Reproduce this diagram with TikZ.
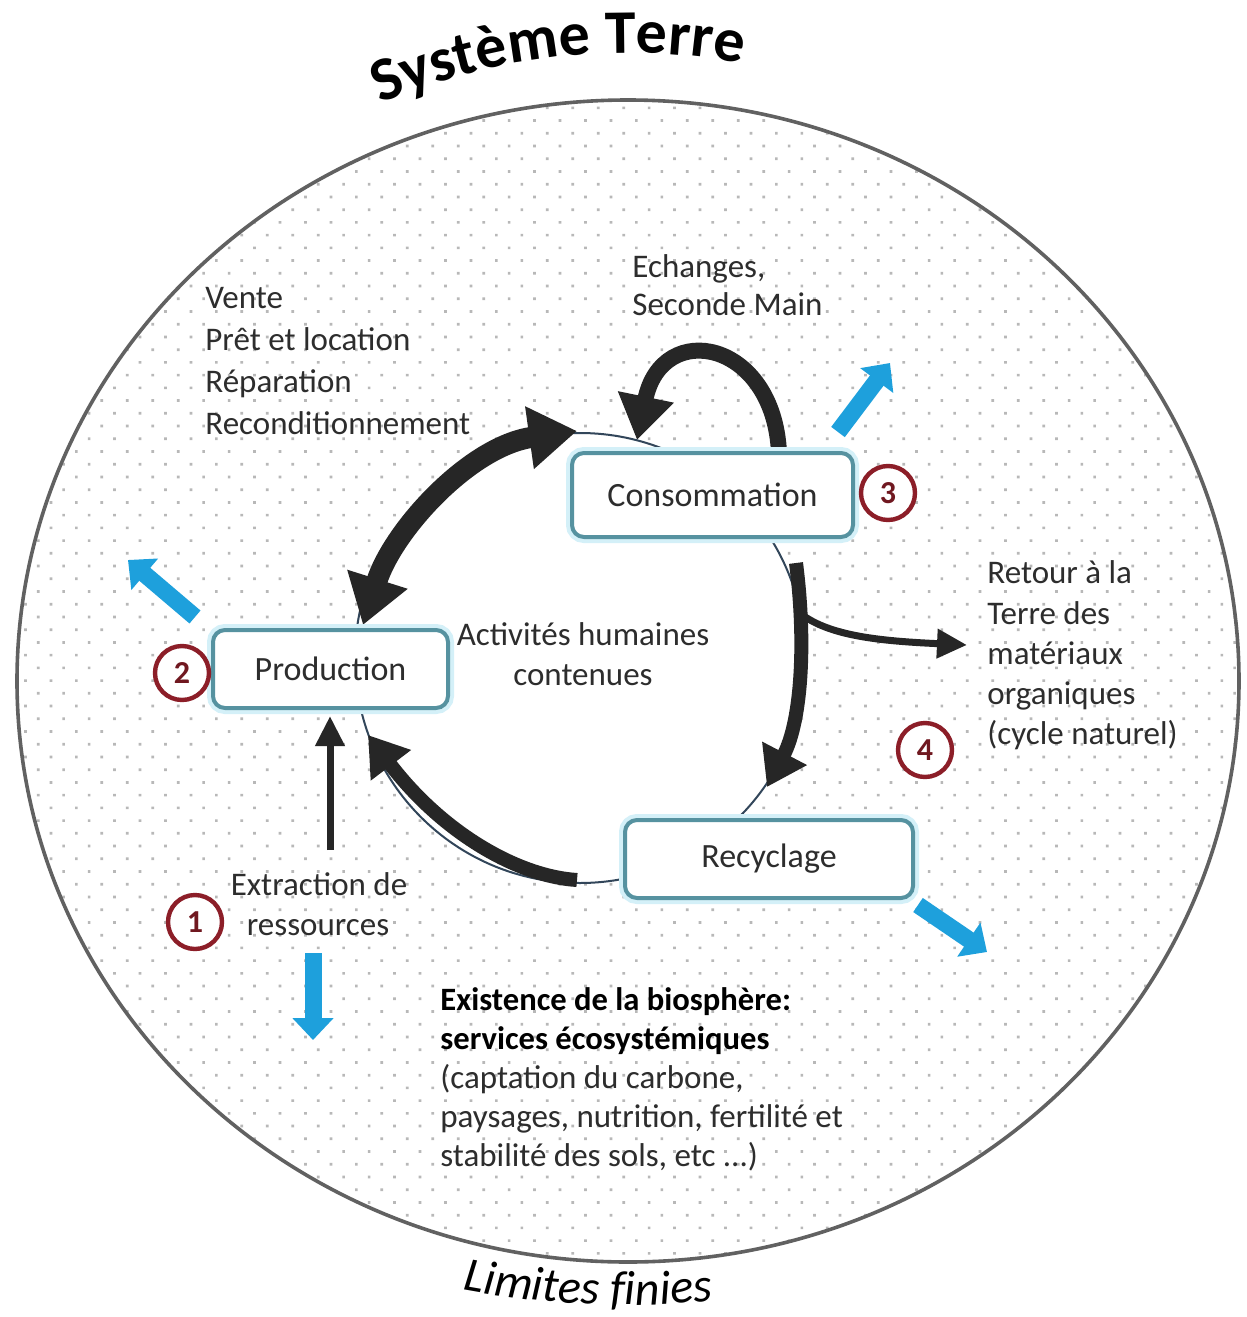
\documentclass[tikz,border=0pt]{standalone}
\usepackage{fontspec}
\setmainfont{Carlito}
\usetikzlibrary{arrows.meta,decorations.text,patterns.meta}
\definecolor{boxteal}{RGB}{86,146,160}
\definecolor{boxglow}{RGB}{212,240,248}
\definecolor{bluearr}{RGB}{30,160,220}
\definecolor{numred}{RGB}{140,30,40}
\definecolor{arrblack}{RGB}{38,38,38}
\definecolor{cycleblue}{RGB}{50,70,90}
\definecolor{txtgray}{RGB}{45,45,45}
\begin{document}
\begin{tikzpicture}[x=0.5pt,y=-0.5pt,
  txt/.style={font=\fontsize{16.5}{20}\selectfont, text=txtgray, inner sep=0pt, anchor=base west},
  txtb/.style={txt, font=\fontsize{16.3}{20}\selectfont\bfseries, text=black},
  txtc/.style={txt, anchor=base},
  box/.style={draw=boxteal, line width=2pt, rounded corners=6pt, fill=white,
    preaction={draw=boxglow, line width=6pt},
    font=\fontsize{17}{20}\selectfont, text=txtgray},
  num/.style={circle, draw=numred, line width=2.2pt, fill=white, minimum size=27pt, inner sep=0pt,
    font=\fontsize{16}{16}\selectfont\bfseries, text=numred!80!black},
  bluear/.style={draw=bluearr, line width=8.5pt, -{Triangle[width=20pt,length=11pt]}},
  bigarr/.style={draw=arrblack, line width=10.5pt, {Triangle[width=30pt,length=24pt]}-{Triangle[width=30pt,length=24pt]}},
  loopar/.style={draw=arrblack, line width=8pt, -{Triangle[width=27pt,length=22pt]}},
  midarr/.style={draw=arrblack, line width=7pt, -{Triangle[width=24pt,length=19pt]}},
  thinar/.style={draw=arrblack, line width=3.5pt, -{Triangle[width=14pt,length=15pt]}}
]
\useasboundingbox (0,0) rectangle (1247,1317);
\fill[white] (0,0) rectangle (1247,1317);

% Earth system
\path[pattern={Dots[distance=9pt,radius=0.95pt,angle=45]}, pattern color=black!28]
  (628,681) ellipse [x radius=611, y radius=581];
\draw[black!62, line width=1.8pt] (628,681) ellipse [x radius=611, y radius=581];

% curved titles
\path[decorate, decoration={text along path, text align=center,
  text={|\fontsize{31}{31}\selectfont\bfseries|Système Terre}}]
  (628,681) ++(-113.8:628) arc[start angle=-113.8, end angle=-79, radius=628];
\path[decorate, decoration={text along path, text align=center,
  text={|\fontsize{24}{24}\selectfont\itshape|Limites finies}}]
  (628,405) ++(101.1:900) arc[start angle=101.1, end angle=84.1, radius=900];

% cycle of human activities
\draw[cycleblue, line width=1pt, fill=white] (580,658) circle [radius=225];

% arrow end points
\coordinate (dA) at (363,625); \coordinate (dB) at (577,431);
\coordinate (sA) at (779,453); \coordinate (sB) at (637,440);
\coordinate (rA) at (796,563); \coordinate (rB) at (767,787);
\coordinate (bA) at (801,614); \coordinate (bB) at (967,645);
\coordinate (cA) at (577,880); \coordinate (cB) at (368,735);
\coordinate (eA) at (330,850); \coordinate (eB) at (330,716);
\coordinate (u1) at (838,432); \coordinate (u2) at (890,363);
\coordinate (v1) at (195,617); \coordinate (v2) at (128,560);
\coordinate (w1) at (313,953); \coordinate (w2) at (313,1040);
\coordinate (z1) at (918,905); \coordinate (z2) at (987,952);

% black arrows
\draw[bigarr] (dA) .. controls (393,530) and (470,446) .. (dB);
\draw[loopar] (sA) .. controls (774,340) and (662,318) .. (sB);
\draw[midarr] (rA) .. controls (806,640) and (802,720) .. (rB);
\draw[thinar] (bA) .. controls (830,636) and (880,641) .. (bB);
\draw[midarr] (cA) .. controls (515,876) and (440,830) .. (cB);
\draw[thinar] (eA) -- (eB);

% blue arrows
\draw[bluear] (u1) -- (u2);
\draw[bluear] (v1) -- (v2);
\draw[bluear] (w1) -- (w2);
\draw[bluear] (z1) -- (z2);

% boxes
\node[box, minimum width=140.5pt, minimum height=42pt] (cons) at (712.5,495) {Consommation};
\node[box, minimum width=117.5pt, minimum height=39pt] (prod) at (330.5,669) {Production};
\node[box, minimum width=144pt, minimum height=39pt] (recy) at (769,859) {Recyclage};

% numbers
\node[num] (n1) at (195,922) {1};
\node[num] (n2) at (182,673) {2};
\node[num] (n3) at (888,493) {3};
\node[num] (n4) at (925,750) {4};

% texts
\node[txt] (v1t) at (205,308) {Vente};
\node[txt] (v2t) at (205,350) {Prêt et location};
\node[txt] (v3t) at (205,392) {Réparation};
\node[txt] (v4t) at (205,434) {Reconditionnement};

\node[txt] (e1t) at (632,277) {Echanges,};
\node[txt] (e2t) at (632,315) {Seconde Main};

\node[txtc] (a1t) at (583,645) {Activités humaines};
\node[txtc] (a2t) at (583,685) {contenues};

\node[txt] (r1t) at (987,583) {Retour à la};
\node[txt] (r2t) at (987,624) {Terre des};
\node[txt] (r3t) at (987,664) {matériaux};
\node[txt] (r4t) at (987,704) {organiques};
\node[txt] (r5t) at (987,744) {(cycle naturel)};

\node[txtc] (x1t) at (319,895) {Extraction de};
\node[txtc] (x2t) at (318,935) {ressources};

\node[txtb] (b1t) at (440,1010) {Existence de la biosphère:};
\node[txtb] (b2t) at (440,1049) {services écosystémiques};
\node[txt] (b3t) at (440,1088) {(captation du carbone,};
\node[txt] (b4t) at (440,1127) {paysages, nutrition, fertilité et};
\node[txt] (b5t) at (440,1166) {stabilité des sols, etc ...)};
\end{tikzpicture}
\end{document}
